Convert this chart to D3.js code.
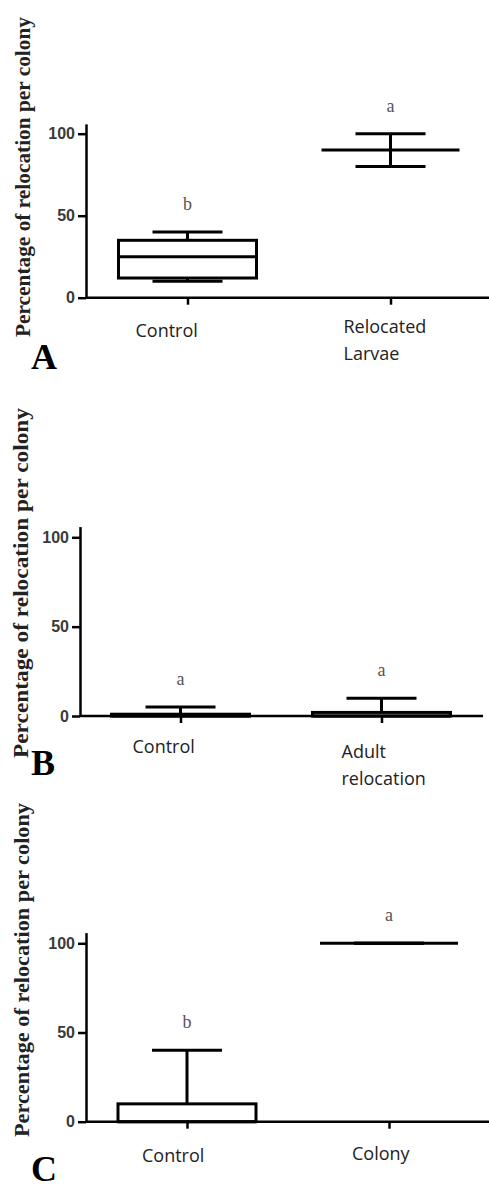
<!DOCTYPE html>
<html>
<head>
<meta charset="utf-8">
<script src="https://cdn.jsdelivr.net/npm/d3@7"></script>
<style>
  body { margin: 0; background: #fff; }
  svg { display: block; }
</style>
</head>
<body>
<svg id="chart" width="489" height="1190"></svg>
<script>
// values (box plot: min, q1, median, q3, max)
var yTicks = [0, 50, 100];
var yTitle = "Percentage of relocation per colony";

var groupsA = ["Control", "Relocated|Larvae"];
var minA = [10, 80];
var q1A = [12, 90];
var medA = [25, 90];
var q3A = [35, 90];
var maxA = [40, 100];
var sigA = ["b", "a"];

var groupsB = ["Control", "Adult|relocation"];
var minB = [0, 0];
var q1B = [0, 0];
var medB = [0, 0];
var q3B = [1, 2];
var maxB = [5, 10];
var sigB = ["a", "a"];

var groupsC = ["Control", "Colony"];
var minC = [0, 100];
var q1C = [0, 100];
var medC = [0, 100];
var q3C = [10, 100];
var maxC = [40, 100];
var sigC = ["b", "a"];

var svg = d3.select("#chart");

function panel(p) {
  var g = svg.append("g");
  var rows = p.groups.map(function (name, i) {
    return { name: name, min: p.min[i], q1: p.q1[i], med: p.med[i], q3: p.q3[i], max: p.max[i], sig: p.sig[i], i: i };
  });

  var x = d3.scalePoint().domain(p.groups).range([p.left, p.left + 2 * p.step]).padding(0.5);
  var y = d3.scaleLinear().domain([0, 106]).range([p.y0, p.y0 - p.px100 * 1.06]);

  // y axis
  var ya = g.append("g")
    .attr("transform", "translate(" + p.left + ",0)")
    .call(d3.axisLeft(y).tickValues(yTicks).tickSize(8).tickSizeOuter(0).tickPadding(3));
  ya.selectAll("path,line").style("stroke", "#000").style("stroke-width", 2.5);
  ya.selectAll("text")
    .style("font-family", "'Liberation Sans', Arial, sans-serif")
    .style("font-weight", "bold")
    .style("font-size", "16px")
    .style("fill", "#3a3a3a");

  // x axis
  var xa = g.append("g")
    .attr("transform", "translate(0," + p.y0 + ")")
    .call(d3.axisBottom(x).tickSize(7).tickSizeOuter(0).tickFormat(""));
  xa.select(".domain").attr("d", "M" + p.left + ",0H" + p.right);
  xa.selectAll("path,line").style("stroke", "#000").style("stroke-width", 2.5);

  var boxHalf = 69, capHalf = 35, sw = 3;
  var box = g.selectAll(".box").data(rows).enter().append("g").attr("class", "box");

  // whiskers
  box.append("line")
    .attr("x1", function (d) { return x(d.name); }).attr("x2", function (d) { return x(d.name); })
    .attr("y1", function (d) { return y(d.max); }).attr("y2", function (d) { return y(d.q3); });
  box.append("line")
    .attr("x1", function (d) { return x(d.name); }).attr("x2", function (d) { return x(d.name); })
    .attr("y1", function (d) { return y(d.min); }).attr("y2", function (d) { return y(d.q1); });
  box.append("line")
    .attr("x1", function (d) { return x(d.name) - capHalf; }).attr("x2", function (d) { return x(d.name) + capHalf; })
    .attr("y1", function (d) { return y(d.max); }).attr("y2", function (d) { return y(d.max); });
  box.filter(function (d) { return d.min > 0; }).append("line")
    .attr("x1", function (d) { return x(d.name) - capHalf; }).attr("x2", function (d) { return x(d.name) + capHalf; })
    .attr("y1", function (d) { return y(d.min); }).attr("y2", function (d) { return y(d.min); });

  // box
  box.append("rect")
    .attr("x", function (d) { return x(d.name) - boxHalf; })
    .attr("width", boxHalf * 2)
    .attr("y", function (d) { return y(d.q3); })
    .attr("height", function (d) { return y(d.q1) - y(d.q3); })
    .style("fill", "#fff");
  box.append("line")
    .attr("x1", function (d) { return x(d.name) - boxHalf; }).attr("x2", function (d) { return x(d.name) + boxHalf; })
    .attr("y1", function (d) { return y(d.med); }).attr("y2", function (d) { return y(d.med); });
  box.selectAll("line,rect").style("stroke", "#000").style("stroke-width", sw);

  // significance letters
  g.selectAll(".sig").data(rows).enter().append("text")
    .attr("x", function (d) { return x(d.name); })
    .attr("y", function (d) { return y(d.max) - 22; })
    .attr("text-anchor", "middle")
    .style("font-family", "'Liberation Serif', 'Times New Roman', serif")
    .style("font-size", "18px")
    .style("fill", "#555")
    .text(function (d) { return d.sig; });

  // category labels
  var lab = g.selectAll(".lab").data(rows).enter().append("text")
    .attr("x", function (d) { return x(d.name) + p.labelDx[d.i]; })
    .attr("y", function (d) { return p.y0 + p.labelDy[d.i]; })
    .style("font-family", "'Open Sans', sans-serif")
    .style("font-size", "18px")
    .style("fill", "#222");
  lab.selectAll("tspan").data(function (d) {
    return d.name.split("|").map(function (t, k) { return { t: t, k: k, x: x(d.name) + p.labelDx[d.i] }; });
  }).enter().append("tspan")
    .attr("x", function (s) { return s.x; })
    .attr("dy", function (s) { return s.k ? 27 : 0; })
    .text(function (s) { return s.t; });

  // y title
  g.append("text")
    .attr("transform", "translate(" + p.titleX + "," + p.titleY + ") rotate(-90)")
    .attr("text-anchor", "middle")
    .attr("textLength", p.titleLen)
    .attr("lengthAdjust", "spacingAndGlyphs")
    .style("font-family", "'Liberation Serif', 'Times New Roman', serif")
    .style("font-weight", "bold")
    .style("font-size", "22px")
    .style("fill", "#222")
    .text(yTitle);

  // panel letter
  g.append("text")
    .attr("x", 31).attr("y", p.letterY)
    .style("font-family", "'Liberation Serif', 'Times New Roman', serif")
    .style("font-weight", "bold")
    .style("font-size", "36px")
    .style("fill", "#000")
    .text(p.letter);
}

panel({ letter: "A", groups: groupsA, min: minA, q1: q1A, med: medA, q3: q3A, max: maxA, sig: sigA,
  left: 86, right: 489, step: 203, y0: 297.7, px100: 164,
  labelDx: [-52, -47], labelDy: [39, 35], titleX: 30, titleY: 177, titleLen: 320, letterY: 369 });

panel({ letter: "B", groups: groupsB, min: minB, q1: q1B, med: medB, q3: q3B, max: maxB, sig: sigB,
  left: 80, right: 483, step: 201, y0: 716, px100: 178.7,
  labelDx: [-48, -40], labelDy: [37, 42], titleX: 28, titleY: 583, titleLen: 350, letterY: 775 });

panel({ letter: "C", groups: groupsC, min: minC, q1: q1C, med: medC, q3: q3C, max: maxC, sig: sigC,
  left: 86, right: 489, step: 202, y0: 1121.7, px100: 178.4,
  labelDx: [-45, -37], labelDy: [40, 38], titleX: 29, titleY: 970, titleLen: 334, letterY: 1181 });
</script>
</body>
</html>
